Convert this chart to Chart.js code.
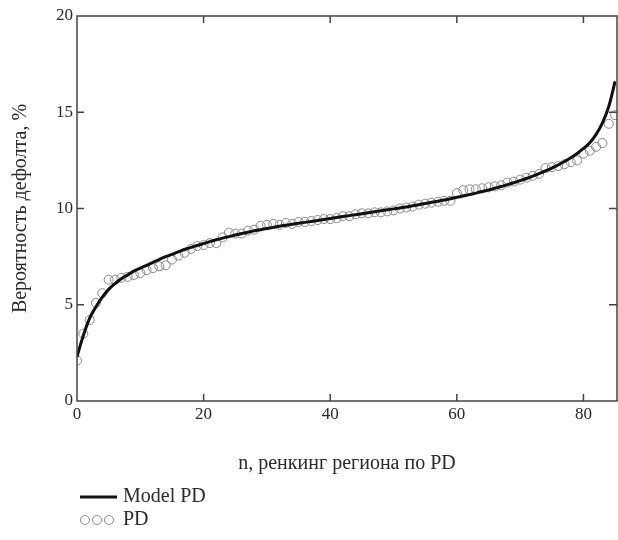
<!DOCTYPE html>
<html>
<head>
<meta charset="utf-8">
<script src="https://cdn.jsdelivr.net/npm/chart.js@4"></script>
<style>
  html, body { margin: 0; padding: 0; background: #fff; overflow: hidden; }
  canvas { display: block; }
</style>
</head>
<body>
<canvas id="pd" width="618" height="540"></canvas>
<script>
// n, ranking of region by PD
var ranks = [];
for (var i = 0; i <= 85; i++) ranks.push(i);

// Model PD, %
var modelPD = [2.3, 3.4, 4.3, 4.9, 5.4, 5.8, 6.1, 6.35, 6.55, 6.75,
  6.9, 7.05, 7.2, 7.35, 7.5, 7.62, 7.75, 7.87, 7.98, 8.08,
  8.18, 8.28, 8.37, 8.46, 8.54, 8.62, 8.7, 8.77, 8.84, 8.9,
  8.96, 9.02, 9.08, 9.13, 9.18, 9.23, 9.28, 9.33, 9.38, 9.43,
  9.48, 9.53, 9.58, 9.63, 9.68, 9.73, 9.78, 9.83, 9.88, 9.93,
  9.98, 10.03, 10.08, 10.14, 10.2, 10.26, 10.32, 10.38, 10.44, 10.51,
  10.58, 10.65, 10.72, 10.8, 10.88, 10.96, 11.05, 11.14, 11.24, 11.34,
  11.45, 11.56, 11.68, 11.81, 11.95, 12.1, 12.26, 12.44, 12.64, 12.86,
  13.12, 13.42, 13.85, 14.45, 15.3, 16.6];

// observed PD, %
var obsPD = [2.1, 3.5, 4.2, 5.1, 5.6, 6.3, 6.3, 6.4, 6.45, 6.55,
  6.65, 6.8, 6.9, 7.0, 7.05, 7.35, 7.55, 7.7, 7.9, 8.05,
  8.1, 8.2, 8.2, 8.5, 8.75, 8.7, 8.7, 8.85, 8.9, 9.1,
  9.15, 9.2, 9.15, 9.25, 9.2, 9.3, 9.3, 9.35, 9.4, 9.45,
  9.45, 9.5, 9.6, 9.6, 9.7, 9.75, 9.75, 9.8, 9.8, 9.85,
  9.9, 10.0, 10.05, 10.1, 10.2, 10.25, 10.3, 10.35, 10.4, 10.4,
  10.8, 10.95, 11.0, 11.0, 11.05, 11.1, 11.15, 11.2, 11.35, 11.4,
  11.5, 11.6, 11.7, 11.8, 12.1, 12.15, 12.2, 12.3, 12.4, 12.5,
  12.85, 13.0, 13.2, 13.4, 14.4, 14.85];

var xTicks = [0, 20, 40, 60, 80];
var yTicks = [0, 5, 10, 15, 20];

var FONT = '"Liberation Serif", "Times New Roman", serif';
var INK = '#2a2a2a';

function pts(ys) {
  return ranks.map(function (n, k) { return {x: n, y: ys[k]}; });
}

// box round the plot with inward tick marks, and the legend under it
var frame = {
  id: 'frame',
  afterDraw: function (chart) {
    var c = chart.ctx, a = chart.chartArea;
    var sx = chart.scales.x, sy = chart.scales.y;
    c.save();
    c.strokeStyle = '#444';
    c.lineWidth = 1.5;
    c.strokeRect(a.left, a.top, a.right - a.left, a.bottom - a.top);
    c.beginPath();
    xTicks.forEach(function (v) {
      if (v === 0) return;
      var px = sx.getPixelForValue(v);
      c.moveTo(px, a.bottom); c.lineTo(px, a.bottom - 7);
      c.moveTo(px, a.top); c.lineTo(px, a.top + 7);
    });
    yTicks.forEach(function (v) {
      if (v === 0 || v === 20) return;
      var py = sy.getPixelForValue(v);
      c.moveTo(a.left, py); c.lineTo(a.left + 7, py);
      c.moveTo(a.right, py); c.lineTo(a.right - 8, py);
    });
    c.stroke();

    // legend
    c.font = '20px ' + FONT;
    c.fillStyle = INK;
    c.textBaseline = 'middle';
    c.strokeStyle = '#111';
    c.lineWidth = 3;
    c.beginPath(); c.moveTo(80, 497); c.lineTo(117, 497); c.stroke();
    c.fillText('Model PD', 123, 497);
    c.strokeStyle = '#8a8a8a';
    c.lineWidth = 1;
    [85, 97, 109].forEach(function (cx) {
      c.beginPath(); c.arc(cx, 520, 4.5, 0, Math.PI * 2); c.stroke();
    });
    c.fillText('PD', 123, 520);
    c.restore();
  }
};

new Chart(document.getElementById('pd'), {
  type: 'scatter',
  data: {
    datasets: [{
      label: 'Model PD',
      data: pts(modelPD),
      showLine: true,
      borderColor: '#111',
      borderWidth: 3,
      pointRadius: 0,
      tension: 0.4
    }, {
      label: 'PD',
      data: pts(obsPD),
      showLine: false,
      borderColor: '#8a8a8a',
      backgroundColor: 'rgba(0,0,0,0)',
      borderWidth: 1,
      pointRadius: 4.5
    }]
  },
  options: {
    responsive: false,
    animation: false,
    layout: { autoPadding: false, padding: { left: 0, right: 1, top: 16, bottom: 0 } },
    plugins: { legend: { display: false }, tooltip: { enabled: false } },
    scales: {
      x: {
        type: 'linear',
        min: 0,
        max: 85.3,
        afterFit: function (s) { s.height = 139; s.paddingLeft = 0; s.paddingRight = 0; },
        afterBuildTicks: function (s) { s.ticks = xTicks.map(function (v) { return {value: v}; }); },
        grid: { display: false, drawTicks: false },
        border: { display: false },
        ticks: { color: INK, font: { family: FONT, size: 17 }, padding: 3, maxRotation: 0 },
        title: {
          display: true,
          text: 'n, ренкинг региона по PD',
          color: INK,
          font: { family: FONT, size: 20 },
          padding: { top: 0, bottom: 64 }
        }
      },
      y: {
        type: 'linear',
        min: 0,
        max: 20,
        afterFit: function (s) { s.width = 77; },
        afterBuildTicks: function (s) { s.ticks = yTicks.map(function (v) { return {value: v}; }); },
        grid: { display: false, drawTicks: false },
        border: { display: false },
        ticks: { color: INK, font: { family: FONT, size: 17 }, padding: 4 },
        title: {
          display: true,
          text: 'Вероятность дефолта, %',
          color: INK,
          font: { family: FONT, size: 20 },
          padding: { top: 9, bottom: 0 }
        }
      }
    }
  },
  plugins: [frame]
});
</script>
</body>
</html>
